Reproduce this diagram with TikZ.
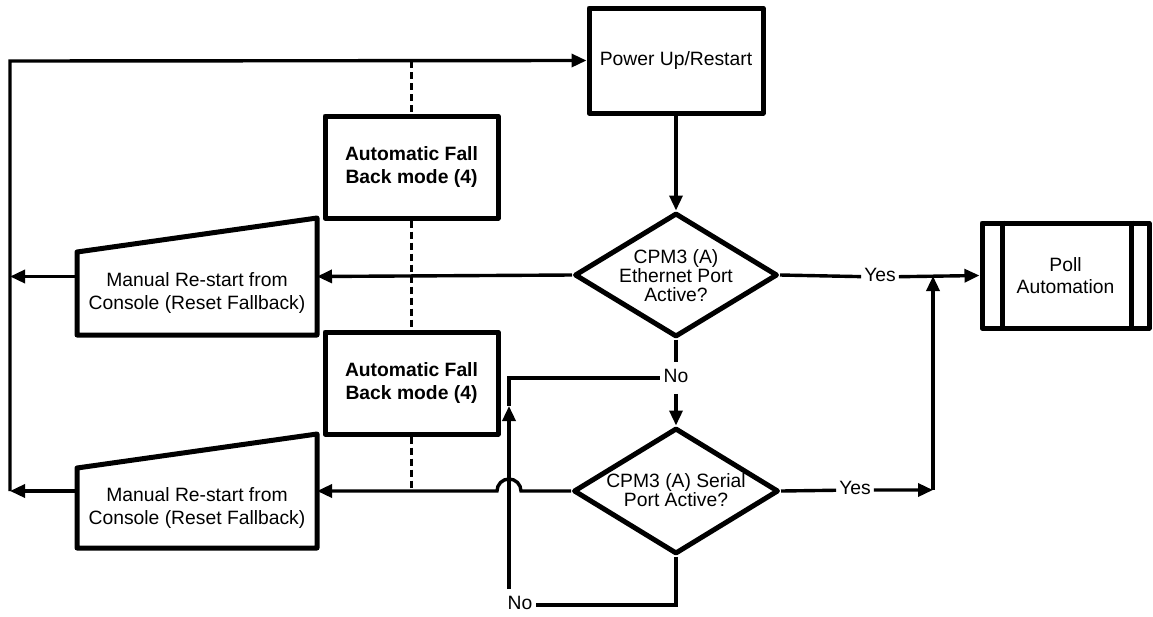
\documentclass[tikz,border=0pt]{standalone}
\usepackage{fontspec}
\setmainfont{Liberation Sans}
\usetikzlibrary{shapes.geometric,arrows.meta,calc}
\begin{document}
\begin{tikzpicture}[x=1pt,y=-1pt,
  txt/.style={font=\fontsize{19.3}{22.5}\selectfont, align=center},
  dtxt/.style={font=\fontsize{19.3}{19}\selectfont, align=center},
  box/.style={draw, line width=5pt, line join=round, inner sep=0pt, txt},
  dmd/.style={draw, diamond, line width=5pt, line join=round, inner sep=0pt},
  conn/.style={line width=3.4pt},
  arr/.style={conn, -{Triangle[length=15pt,width=13pt]}},
  dash line/.style={line width=3.4pt, dash pattern=on 7pt off 4pt},
  lbl/.style={font=\fontsize{19.3}{22}\selectfont, fill=white, inner xsep=3pt, inner ysep=6pt,
              text height=14.5pt, text depth=4.8pt}]
\useasboundingbox (0,0) rectangle (1153,616);

% process boxes
\node[box, minimum width=174pt, minimum height=105pt] (power) at (676,60.5) {Power Up/Restart};
\node[box, minimum width=173pt, minimum height=102pt, font=\fontsize{19.3}{22.5}\selectfont\bfseries] (fb1) at (411.5,167) {Automatic Fall\\Back mode (4)};
\node[box, minimum width=173pt, minimum height=102pt, font=\fontsize{19.3}{22.5}\selectfont\bfseries] (fb2) at (411.5,383) {Automatic Fall\\Back mode (4)};

% predefined process
\node[box, minimum width=167pt, minimum height=105pt] (poll) at (1065.5,275.5) {Poll\\Automation};
\draw[line width=5pt] ([xshift=23pt]poll.north west) -- ([xshift=23pt]poll.south west);
\draw[line width=5pt] ([xshift=-20pt]poll.north east) -- ([xshift=-20pt]poll.south east);

% decisions
\node[dmd, minimum width=203pt, minimum height=124pt] (d1) at (676,275) {};
\node[dtxt] at (676,276) {CPM3 (A)\\Ethernet Port\\Active?};
\node[dmd, minimum width=205pt, minimum height=126pt] (d2) at (676,491) {};
\node[dtxt] at (676,490.5) {CPM3 (A) Serial\\Port Active?};

% manual input shapes
\node[minimum width=240pt, minimum height=117pt, inner sep=0pt, outer sep=0pt] (m1) at (197,276.5) {};
\draw[line width=5pt, line join=round] ($(m1.north west)+(0,34)$) -- (m1.north east) -- (m1.south east) -- (m1.south west) -- cycle;
\node[txt] at (197,293) {Manual Re-start from\\Console (Reset Fallback)};
\node[minimum width=240pt, minimum height=114pt, inner sep=0pt, outer sep=0pt] (m2) at (197,491) {};
\draw[line width=5pt, line join=round] ($(m2.north west)+(0,34)$) -- (m2.north east) -- (m2.south east) -- (m2.south west) -- cycle;
\node[txt] at (197,508) {Manual Re-start from\\Console (Reset Fallback)};

% connector labels
\node[lbl] (yes1) at (880,277) {Yes};
\node[lbl] (yes2) at (855,490) {Yes};
\node[lbl] (no1) at (676,378) {No};
\node[lbl] (no2) at (520,605) {No};

% connector corners
\coordinate (T) at (10,61);
\coordinate (L1) at (10,276.5);
\coordinate (L2) at (10,491);
\coordinate (J1) at (933,276);
\coordinate (J2) at (933,490);
\coordinate (V0) at (509,589);
\coordinate (Vtip) at (509,406);
\coordinate (V1) at (509,378);
\coordinate (hopR) at (521,491);
\coordinate (DT) at (411.5,61);
\coordinate (DB) at (411.5,491);

% dashed association line
\draw[dash line] (DT) -- (fb1.north);
\draw[dash line] (fb1.south) -- (fb2.north);
\draw[dash line] (fb2.south) -- (DB);

% flow
\draw[arr] (L2) -- (T) -- (power.west);
\draw[arr] (power.south) -- (d1.north);
\draw[arr] (d1.east) -- (yes1) -- (poll.west);
\draw[arr] (d1.west) -- (m1.east);
\draw[arr] (m1.west) -- (L1);
\draw[conn] (d1.south) -- (no1);
\draw[arr] (no1) -- (d2.north);
\draw[arr] (d2.east) -- (yes2) -- (J2);
\draw[arr] (J2) -- (J1);
\draw[arr] (d2.west) -- (hopR) arc[start angle=0, end angle=180, radius=12pt] -- (m2.east);
\draw[arr] (m2.west) -- (L2);
\draw[conn] (d2.south) |- (no2.east);
\draw[arr] (V0) -- (Vtip);
\draw[conn] (Vtip) -- (V1) -- (no1);
\end{tikzpicture}
\end{document}
